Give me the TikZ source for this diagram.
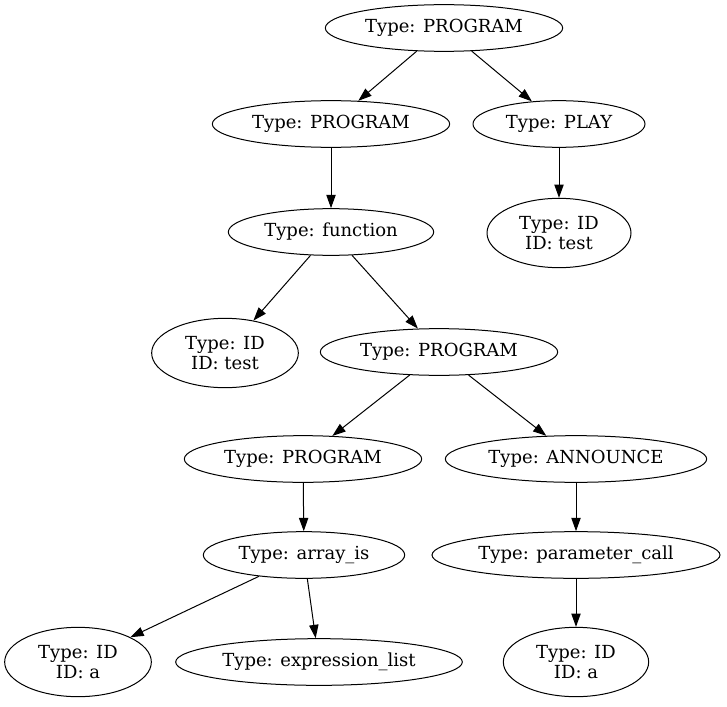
\documentclass[tikz,border=0pt]{standalone}
\usepackage{fontspec}
\setmainfont{DejaVu Serif}
\usetikzlibrary{shapes.geometric,arrows.meta}
\tikzset{
  ast/.style={draw, ellipse, inner sep=0pt, line width=0.75pt, align=center,
    font=\fontsize{13.5}{15}\selectfont, minimum height=35pt},
  ast2/.style={ast, minimum height=52pt}
}
\begin{document}
\begin{tikzpicture}[x=0.75pt, y=-0.75pt]
      \useasboundingbox (0,0) rectangle (727,706);
      \path
        (444,28) node[ast, minimum width=178pt] (prog){Type: PROGRAM}
        (331,124) node[ast, minimum width=178pt] (progl){Type: PROGRAM}
        (559,124) node[ast, minimum width=129pt] (play){Type: PLAY}
        (559,233) node[ast2, minimum width=108pt] (playid){Type: ID\\ID: test}
        (331,232) node[ast, minimum width=154pt] (func){Type: function}
        (225,353) node[ast2, minimum width=110pt] (funcid){Type: ID\\ID: test}
        (439,352) node[ast, minimum width=178pt] (body){Type: PROGRAM}
        (303,459) node[ast, minimum width=178pt] (bodyl){Type: PROGRAM}
        (576,459) node[ast, minimum width=196pt] (announce){Type: ANNOUNCE}
        (304,555) node[ast, minimum width=151pt] (array){Type: array\_is}
        (576,555) node[ast, minimum width=216pt] (param){Type: parameter\_call}
        (78,662) node[ast2, minimum width=110pt] (arrayid){Type: ID\\ID: a}
        (319,662) node[ast, minimum width=215pt] (exprs){Type: expression\_list}
        (576,662) node[ast2, minimum width=109pt] (paramid){Type: ID\\ID: a};
      \begin{scope}[line width=0.75pt, -{Triangle[length=10pt, width=7pt]}]
        \draw (prog) to (progl);
        \draw (prog) to (play);
        \draw (play) to (playid);
        \draw (progl) to (func);
        \draw (func) to (funcid);
        \draw (func) to (body);
        \draw (body) to (bodyl);
        \draw (body) to (announce);
        \draw (bodyl) to (array);
        \draw (array) to (arrayid);
        \draw (array) to (exprs);
        \draw (announce) to (param);
        \draw (param) to (paramid);
      \end{scope}
    \end{tikzpicture}
\end{document}
